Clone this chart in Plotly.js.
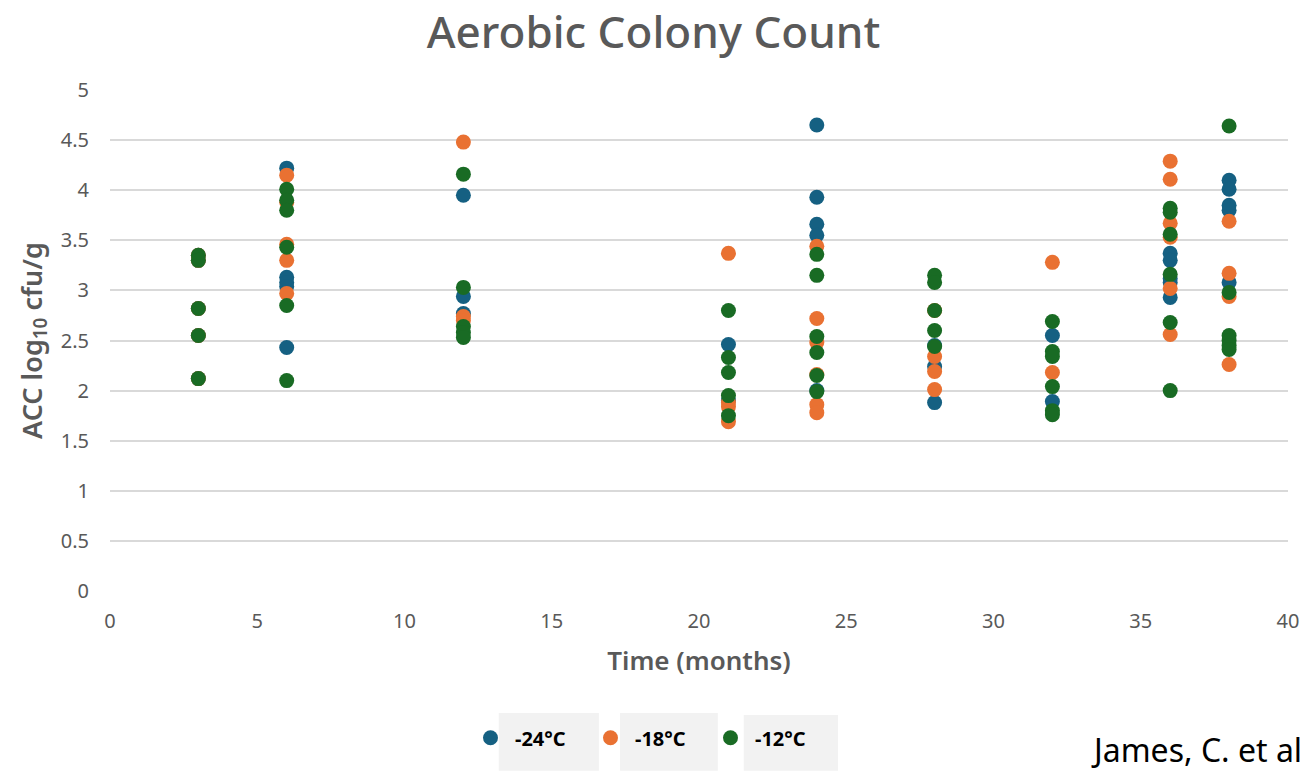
<!DOCTYPE html>
<html>
<head>
<meta charset="utf-8">
<script src="https://cdn.plot.ly/plotly-3.0.1.min.js"></script>
<style>html,body{margin:0;padding:0;background:#fff;}#chart{width:1307px;height:771px;}</style>
</head>
<body>
<div id="chart"></div>
<script>
// Series names
const seriesNames = ["-24°C", "-18°C", "-12°C"];
const seriesColors = ["#156082", "#E97132", "#196B24"];

// -24°C
const monthsA = [3,3,3,3,3, 6,6,6,6,6, 12,12,12, 21,21, 24,24,24,24,24, 28,28,28, 32,32, 36,36,36,36,36, 38,38,38,38,38];
const valuesA = [3.35,3.30,2.82,2.55,2.12, 4.22,3.13,3.08,3.04,2.43, 3.95,2.94,2.77, 2.46,1.90, 4.65,3.93,3.66,3.55,2.00, 2.45,2.24,1.88, 2.55,1.89, 3.37,3.30,3.12,3.08,2.93, 4.10,4.01,3.85,3.80,3.08];

// -18°C
const monthsB = [3,3,3,3,3, 6,6,6,6,6, 12,12,12, 21,21,21,21, 24,24,24,24,24,24, 28,28,28,28, 32,32, 36,36,36,36,36,36, 38,38,38,38];
const valuesB = [3.35,3.30,2.82,2.55,2.12, 4.15,3.88,3.46,3.30,2.97, 4.48,2.74,2.70, 3.37,1.88,1.84,1.69, 3.44,2.72,2.48,2.16,1.86,1.78, 2.80,2.34,2.19,2.01, 3.28,2.18, 4.29,4.11,3.67,3.53,3.02,2.56, 3.69,3.17,2.94,2.26];

// -12°C
const monthsC = [3,3,3,3,3, 6,6,6,6,6,6, 12,12,12,12,12, 21,21,21,21,21, 24,24,24,24,24,24, 28,28,28,28,28, 32,32,32,32,32,32, 36,36,36,36,36,36, 38,38,38,38,38,38];
const valuesC = [3.35,3.30,2.82,2.55,2.12, 4.01,3.90,3.80,3.43,2.85,2.10, 4.16,3.03,2.64,2.58,2.53, 2.80,2.33,2.18,1.95,1.75, 3.36,3.15,2.54,2.38,2.15,1.99, 3.15,3.08,2.80,2.60,2.44, 2.69,2.39,2.34,2.04,1.80,1.76, 3.82,3.78,3.56,3.16,2.68,2.00, 4.64,2.98,2.55,2.50,2.45,2.41];

const xTicks = [0,5,10,15,20,25,30,35,40];
const yTicks = [0,0.5,1,1.5,2,2.5,3,3.5,4,4.5,5];

const allMonths = [monthsA, monthsB, monthsC];
const allValues = [valuesA, valuesB, valuesC];

const traces = seriesNames.map((name, i) => ({
  type: "scatter",
  mode: "markers",
  name: name,
  x: allMonths[i],
  y: allValues[i],
  marker: {color: seriesColors[i], size: 15, line: {width: 0}},
  hoverinfo: "x+y+name"
}));

const font = "'Noto Sans', 'Open Sans', 'DejaVu Sans', sans-serif";
const boxColor = "#f2f2f2";

const layout = {
  width: 1307,
  height: 771,
  margin: {l: 110, r: 19, t: 90, b: 180},
  paper_bgcolor: "#ffffff",
  plot_bgcolor: "#ffffff",
  font: {family: font, color: "#595959"},
  title: {
    text: "Aerobic Colony Count",
    font: {family: font, size: 44, color: "#595959", weight: 500},
    x: 0.5, xanchor: "center", xref: "container",
    y: 0.958, yanchor: "middle", yref: "container"
  },
  xaxis: {
    range: [0, 40],
    tickvals: xTicks,
    ticktext: xTicks.map(String),
    showgrid: false,
    zeroline: false,
    showline: false,
    ticks: "",
    ticklabelstandoff: 16,
    tickfont: {size: 20, color: "#595959"},
    title: {text: "Time (months)", font: {size: 26, color: "#595959", weight: 600}, standoff: 18},
    fixedrange: true
  },
  yaxis: {
    range: [0, 5],
    tickvals: yTicks,
    ticktext: yTicks.map(String),
    showgrid: true,
    gridcolor: "#d9d9d9",
    gridwidth: 2,
    zeroline: false,
    showline: false,
    ticks: "",
    ticklabelstandoff: 20,
    tickfont: {size: 20, color: "#595959"},
    title: {text: "ACC log<sub>10</sub> cfu/g", font: {size: 27, color: "#595959", weight: 600}, standoff: 10},
    fixedrange: true
  },
  showlegend: true,
  legend: {
    orientation: "h",
    x: 0.3022, xanchor: "left",
    y: -0.293, yanchor: "middle",
    itemwidth: 39,
    entrywidth: 66, entrywidthmode: "pixels",
    bgcolor: "rgba(0,0,0,0)",
    font: {size: 20, color: "#000000", family: font, weight: 700},
    itemclick: false, itemdoubleclick: false
  },
  shapes: [
    {type: "rect", xref: "paper", yref: "paper", x0: 0.330, x1: 0.415, y0: -0.359, y1: -0.2435, fillcolor: boxColor, line: {width: 0}, layer: "below"},
    {type: "rect", xref: "paper", yref: "paper", x0: 0.433, x1: 0.516, y0: -0.359, y1: -0.2435, fillcolor: boxColor, line: {width: 0}, layer: "below"},
    {type: "rect", xref: "paper", yref: "paper", x0: 0.538, x1: 0.618, y0: -0.359, y1: -0.2475, fillcolor: boxColor, line: {width: 0}, layer: "below"}
  ],
  annotations: [
    {text: "James, C. et al", xref: "paper", yref: "paper", x: 0.831, y: -0.317, xanchor: "left", yanchor: "middle",
     showarrow: false, font: {size: 32, color: "#000000", family: font}}
  ]
};

Plotly.newPlot("chart", traces, layout, {displayModeBar: false, staticPlot: false});
</script>
</body>
</html>
